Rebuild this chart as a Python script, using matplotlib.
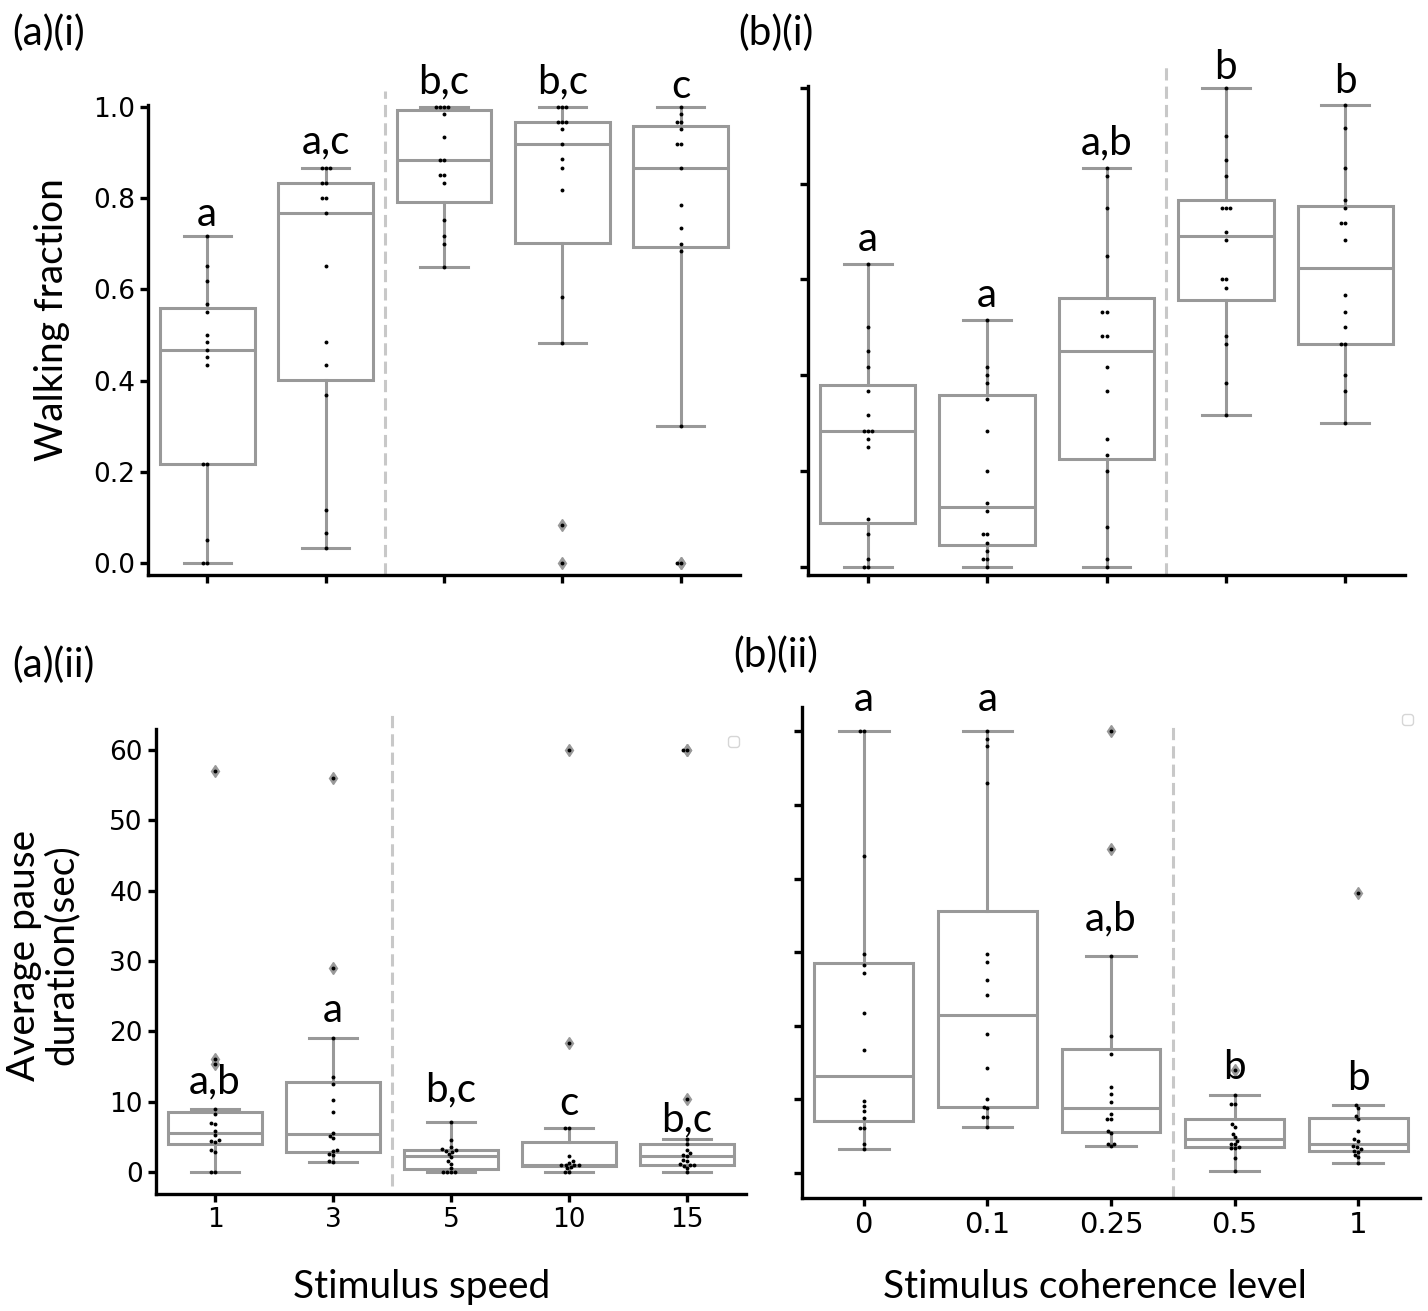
import numpy as np
import matplotlib
matplotlib.use('Agg')
import matplotlib.pyplot as plt
import seaborn as sns

# categories
speed_labels = ['1', '3', '5', '10', '15']
coherence_labels = ['0', '0.1', '0.25', '0.5', '1']

# walking fraction, stimulus speed
walk_s1 = [0.717, 0.651, 0.618, 0.568, 0.551, 0.50, 0.484, 0.467, 0.451, 0.434, 0.217, 0.217, 0.05, 0.0, 0.0]
walk_s3 = [0.867, 0.867, 0.867, 0.834, 0.834, 0.80, 0.80, 0.768, 0.651, 0.484, 0.434, 0.368, 0.117, 0.067, 0.033]
walk_s5 = [1.0, 1.0, 1.0, 1.0, 0.984, 0.934, 0.883, 0.883, 0.851, 0.851, 0.834, 0.751, 0.718, 0.70, 0.65]
walk_s10 = [1.0, 1.0, 1.0, 0.967, 0.967, 0.967, 0.951, 0.918, 0.885, 0.867, 0.818, 0.584, 0.483, 0.083, 0.0]
walk_s15 = [1.0, 0.984, 0.967, 0.967, 0.951, 0.918, 0.918, 0.867, 0.784, 0.734, 0.70, 0.685, 0.30, 0.0, 0.0]

# walking fraction, coherence
walk_c0 = [0.633, 0.50, 0.451, 0.418, 0.368, 0.318, 0.283, 0.283, 0.283, 0.267, 0.25, 0.10, 0.068, 0.017, 0.0, 0.0]
walk_c01 = [0.516, 0.418, 0.40, 0.384, 0.351, 0.283, 0.20, 0.134, 0.117, 0.068, 0.068, 0.050, 0.034, 0.017, 0.017, 0.0]
walk_c025 = [0.832, 0.817, 0.75, 0.65, 0.532, 0.532, 0.483, 0.483, 0.418, 0.368, 0.267, 0.234, 0.20, 0.084, 0.017, 0.0]
walk_c05 = [1.0, 0.90, 0.85, 0.817, 0.75, 0.75, 0.75, 0.70, 0.683, 0.60, 0.60, 0.583, 0.483, 0.466, 0.383, 0.317]
walk_c1 = [0.965, 0.917, 0.833, 0.767, 0.75, 0.717, 0.717, 0.683, 0.567, 0.533, 0.50, 0.466, 0.466, 0.40, 0.367, 0.30]

# average pause duration (sec), stimulus speed
pause_s1 = [57.0, 16.0, 15.3, 9.0, 8.3, 6.9, 6.8, 5.9, 5.3, 4.5, 4.4, 4.3, 3.1, 2.9, 0.0, 0.0]
pause_s3 = [56.0, 29.0, 19.0, 13.5, 12.5, 10.3, 8.6, 5.6, 5.1, 4.8, 3.1, 3.0, 2.6, 2.4, 1.6, 1.4]
pause_s5 = [7.07, 4.5, 3.5, 3.2, 3.1, 3.0, 2.9, 2.55, 2.1, 1.6, 1.2, 0.6, 0.0, 0.0, 0.0, 0.0]
pause_s10 = [60.0, 18.3, 6.26, 6.26, 2.3, 1.5, 1.3, 1.0, 1.0, 1.0, 1.0, 0.7, 0.5, 0.0, 0.0]
pause_s15 = [60.0, 60.0, 10.4, 4.7, 4.0, 3.1, 2.7, 2.4, 2.3, 1.7, 1.5, 1.1, 1.0, 1.0, 0.9, 0.6, 0.0]

# average pause duration (sec), coherence
pause_c0 = [60.0, 60.0, 43.0, 29.7, 28.2, 27.2, 21.7, 16.7, 9.77, 9.09, 8.46, 7.42, 6.15, 6.15, 4.0, 3.26]
pause_c01 = [60.0, 59.0, 58.0, 53.0, 29.7, 28.7, 26.2, 24.15, 18.9, 14.2, 10.0, 9.0, 8.8, 7.6, 7.6, 6.2]
pause_c025 = [60.0, 44.0, 29.5, 18.6, 16.2, 11.7, 10.7, 9.6, 8.0, 7.3, 7.3, 5.7, 5.4, 4.0, 4.0, 3.66]
pause_c05 = [14.0, 10.6, 9.36, 9.36, 6.65, 6.3, 5.3, 4.84, 4.4, 4.0, 4.0, 3.55, 3.45, 3.4, 2.0, 0.3]
pause_c1 = [38.0, 9.2, 8.8, 7.7, 7.3, 5.7, 4.6, 4.4, 3.6, 3.57, 3.3, 3.05, 2.9, 2.5, 2.2, 1.3]

# significance letters and their heights
letters_a1 = ['a', 'a,c', 'b,c', 'b,c', 'c']
letters_a1_y = [0.739, 0.898, 1.030, 1.030, 1.019]
letters_b1 = ['a', 'a', 'a,b', 'b', 'b']
letters_b1_y = [0.659, 0.542, 0.861, 1.019, 0.990]
letters_a2 = ['a,b', 'a', 'b,c', 'c', 'b,c']
letters_a2_y = [11.2, 21.3, 9.96, 8.1, 5.83]
letters_b2 = ['a', 'a', 'a,b', 'b', 'b']
letters_b2_y = [62.7, 62.7, 32.9, 12.7, 11.3]

W, H = 1428, 1311
fig = plt.figure(figsize=(W / 100, H / 100), dpi=100)
lab_font = 'Lato'
grey = '#999999'


def px_axes(l, r, t, b):
    return fig.add_axes([l / W, 1 - b / H, (r - l) / W, (b - t) / H])


def panel(ax, groups, letters, letters_y, ylim, yticks, ticklabels, show_y, fs,
          dash_x, dash_top, dash_bot):
    ax.boxplot(groups, positions=range(5), widths=0.8, whis=1.5, patch_artist=True,
               boxprops=dict(facecolor='white', edgecolor=grey, linewidth=2.2),
               whiskerprops=dict(color=grey, linewidth=2.2),
               capprops=dict(color=grey, linewidth=2.2),
               medianprops=dict(color=grey, linewidth=2.2),
               flierprops=dict(marker='d', markerfacecolor=grey, markeredgecolor=grey,
                               markersize=6))
    xs = []
    ys = []
    for i, g in enumerate(groups):
        xs += [i] * len(g)
        ys += g
    sns.swarmplot(x=xs, y=ys, ax=ax, color='black', size=2.8, zorder=5)
    ax.plot([dash_x, dash_x], [dash_bot, dash_top], color='#c8c8c8', lw=2.2,
            ls=(0, (4, 2)), clip_on=False, zorder=1)
    for i, (t, y) in enumerate(zip(letters, letters_y)):
        ax.text(i, y, t, ha='center', va='baseline', fontsize=29, family=lab_font,
                clip_on=False)
    ax.set_xlim(-0.5, 4.5)
    ax.set_ylim(*ylim)
    ax.set_yticks(yticks)
    if show_y:
        ax.set_yticklabels(['%g' % v if isinstance(v, int) else '%.1f' % v for v in yticks])
    else:
        ax.set_yticklabels([])
    ax.set_xticks(range(5))
    ax.set_xticklabels(ticklabels)
    ax.set_xlabel('')
    ax.set_ylabel('')
    for s in ['top', 'right']:
        ax.spines[s].set_visible(False)
    for s in ['left', 'bottom']:
        ax.spines[s].set_linewidth(2.4)
    ax.tick_params(width=2.4, length=6, labelsize=fs, colors='black')


ax1 = px_axes(148, 740, 105, 575)
panel(ax1, [walk_s1, walk_s3, walk_s5, walk_s10, walk_s15], letters_a1, letters_a1_y,
      (-0.026, 1.004), [0.0, 0.2, 0.4, 0.6, 0.8, 1.0], [''] * 5, True, 19,
      1.5, 1.035, -0.026)

ax2 = px_axes(808, 1405, 86, 575)
panel(ax2, [walk_c0, walk_c01, walk_c025, walk_c05, walk_c1], letters_b1, letters_b1_y,
      (-0.017, 1.004), [0.0, 0.2, 0.4, 0.6, 0.8, 1.0], [''] * 5, False, 19,
      2.5, 1.055, -0.017)

ax3 = px_axes(156, 746, 729, 1194)
panel(ax3, [pause_s1, pause_s3, pause_s5, pause_s10, pause_s15], letters_a2, letters_a2_y,
      (-3.13, 63.0), [0, 10, 20, 30, 40, 50, 60], speed_labels, True, 19,
      1.5, 65.0, -2.0)
ax3.legend(handles=[], loc='upper right')

ax4 = px_axes(802, 1420, 707, 1198)
panel(ax4, [pause_c0, pause_c01, pause_c025, pause_c05, pause_c1], letters_b2, letters_b2_y,
      (-3.4, 63.3), [0, 10, 20, 30, 40, 50, 60], coherence_labels, False, 21,
      2.5, 61.0, -3.4)
ax4.legend(handles=[], loc='upper right')

fig.text(52 / W, 1 - 320 / H, 'Walking fraction', rotation=90, ha='center', va='center',
         fontsize=28, family=lab_font)
fig.text(43 / W, 1 - 955 / H, 'Average pause\nduration(sec)', rotation=90, ha='center',
         va='center', fontsize=28, family=lab_font, linespacing=1.05)
fig.text(422 / W, 1 - 1287 / H, 'Stimulus speed', ha='center', va='center', fontsize=28,
         family=lab_font)
fig.text(1095 / W, 1 - 1287 / H, 'Stimulus coherence level', ha='center', va='center',
         fontsize=28, family=lab_font)

fig.text(12 / W, 1 - 33 / H, '(a)(i)', ha='left', va='center', fontsize=29, family=lab_font)
fig.text(738 / W, 1 - 33 / H, '(b)(i)', ha='left', va='center', fontsize=29, family=lab_font)
fig.text(12 / W, 1 - 665 / H, '(a)(ii)', ha='left', va='center', fontsize=29, family=lab_font)
fig.text(733 / W, 1 - 655 / H, '(b)(ii)', ha='left', va='center', fontsize=29, family=lab_font)

fig.savefig('out.png', dpi=100)
